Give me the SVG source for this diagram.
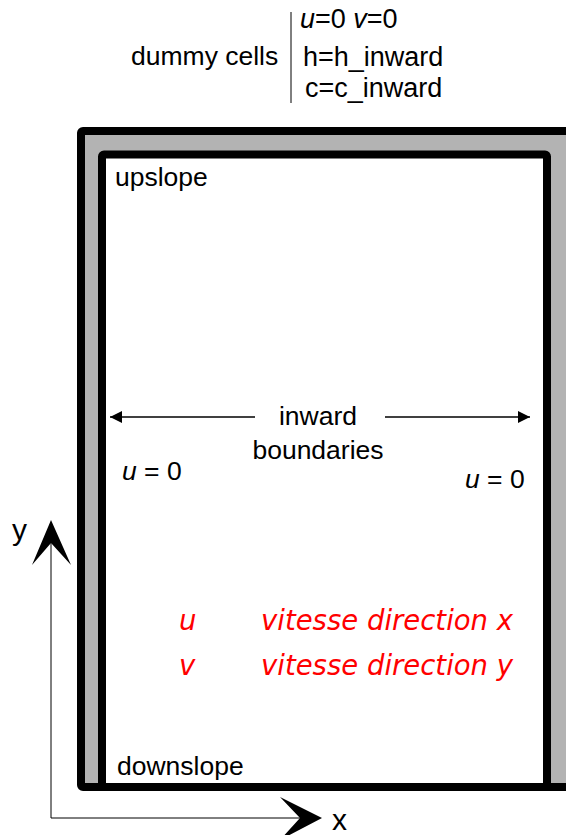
<svg xmlns="http://www.w3.org/2000/svg" width="566" height="835" viewBox="0 0 566 835">
<style>
text{font-family:"Liberation Sans",Arial,sans-serif;fill:#000}
.lbl{font-size:26.5px}
.lg{font-size:27px}
.ax{font-size:30px}
.red{font-family:"DejaVu Sans",Verdana,sans-serif;font-style:italic;fill:#ff0000;font-size:27.5px}
.it{font-style:italic}
</style>
<defs>
<marker id="ah" viewBox="0 0 10 10" refX="10" refY="5" markerWidth="12" markerHeight="12" markerUnits="userSpaceOnUse" orient="auto">
<path d="M0,0 L10,5 L0,10 Z" fill="#000"/>
</marker>
</defs>
<g id="outer-cells">
<rect x="81" y="131" width="500" height="656" rx="2" fill="#b3b3b3" stroke="#000" stroke-width="8"/>
</g>
<g id="domain">
<rect x="102" y="154.5" width="445" height="632.5" rx="2" fill="#fff" stroke="#000" stroke-width="8"/>
</g>
<g id="legend">
<text class="lbl" x="131" y="65">dummy cells</text>
<line x1="291" y1="12" x2="291" y2="103" stroke="#000" stroke-width="1"/>
<text class="lg" x="300" y="28"><tspan class="it">u</tspan>=0  <tspan class="it">v</tspan>=0</text>
<text class="lg" x="303" y="66">h=h_inward</text>
<text class="lg" x="305" y="97">c=c_inward</text>
</g>
<g id="labels">
<text class="lbl" x="115" y="186">upslope</text>
<text class="lbl" x="117" y="775">downslope</text>
<text class="lbl" x="318" y="425" text-anchor="middle">inward</text>
<text class="lbl" x="318" y="459" text-anchor="middle">boundaries</text>
<text class="lbl" x="122" y="480"><tspan class="it">u</tspan> = 0</text>
<text class="lbl" x="465" y="488"><tspan class="it">u</tspan> = 0</text>
<text class="red" x="179" y="630">u</text>
<text class="red" x="261" y="630">vitesse direction x</text>
<text class="red" x="179" y="675">v</text>
<text class="red" x="261" y="675">vitesse direction y</text>
<text class="ax" x="12" y="540">y</text>
<text class="ax" x="332" y="830">x</text>
</g>
<g id="connectors">
<line x1="255" y1="417" x2="110" y2="417" stroke="#000" stroke-width="1.5" marker-end="url(#ah)"/>
<line x1="385" y1="417" x2="530" y2="417" stroke="#000" stroke-width="1.5" marker-end="url(#ah)"/>
<polyline points="51,540 51,818 300,818" fill="none" stroke="#000" stroke-width="1"/>
<path d="M51,520 L71,565 L51,543 L32,565 Z" fill="#000"/>
<path d="M322,818 L280,797 L300,818 L280,840 Z" fill="#000"/>
</g>
</svg>
